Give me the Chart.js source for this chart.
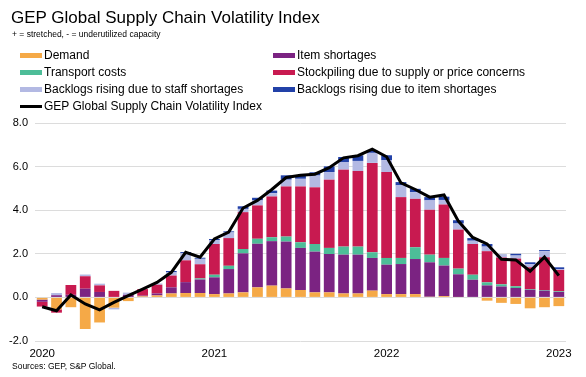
<!DOCTYPE html>
<html>
<head>
<meta charset="utf-8">
<script src="https://cdn.jsdelivr.net/npm/chart.js@4.4.0/dist/chart.umd.min.js"></script>
<style>
  body { margin: 0; background: #fff; }
  #wrap { position: relative; width: 586px; height: 377px; font-family: "Liberation Sans", Arial, sans-serif; color: #000; }
  #wrap canvas { position: absolute; left: 0; top: 0; }
  .txt { position: absolute; white-space: nowrap; }
  .leg { position: absolute; font-size: 12px; line-height: 14px; white-space: nowrap; }
  .leg span { display: inline-block; vertical-align: middle; margin-right: 2px; }
</style>
</head>
<body>
<div id="wrap">
  <canvas id="gscvi" width="586" height="377"></canvas>
  <div class="txt" style="left:11px; top:8px; font-size:17px;">GEP Global Supply Chain Volatility Index</div>
  <div class="txt" style="left:12px; top:29px; font-size:8.5px;">+ = stretched, - = underutilized capacity</div>
  <div class="txt" style="left:12px; top:361px; font-size:8.5px;">Sources: GEP, S&amp;P Global.</div>
  <div id="legend"></div>
</div>
<script>
const months = [
  'Jan 2020', 'Feb 2020', 'Mar 2020', 'Apr 2020', 'May 2020', 'Jun 2020', 'Jul 2020', 'Aug 2020', 'Sep 2020', 'Oct 2020', 'Nov 2020', 'Dec 2020',
  'Jan 2021', 'Feb 2021', 'Mar 2021', 'Apr 2021', 'May 2021', 'Jun 2021', 'Jul 2021', 'Aug 2021', 'Sep 2021', 'Oct 2021', 'Nov 2021', 'Dec 2021',
  'Jan 2022', 'Feb 2022', 'Mar 2022', 'Apr 2022', 'May 2022', 'Jun 2022', 'Jul 2022', 'Aug 2022', 'Sep 2022', 'Oct 2022', 'Nov 2022', 'Dec 2022',
  'Jan 2023'
];

const demand = [-0.1, -0.55, -0.45, -1.45, -1.15, -0.47, -0.17, 0.05, 0.09, 0.18, 0.2, 0.2,
  0.15, 0.18, 0.23, 0.46, 0.54, 0.41, 0.34, 0.23, 0.23, 0.18, 0.18, 0.31,
  0.15, 0.15, 0.15, 0.03, 0.06, 0.02, 0.0, -0.15, -0.25, -0.3, -0.5, -0.45, -0.4];
const itemShortages = [-0.1, 0.1, 0.12, 0.4, 0.25, 0, 0.12, 0.03, 0.09, 0.28, 0.5, 0.62,
  0.77, 1.12, 1.79, 2.0, 2.04, 2.15, 1.93, 1.87, 1.76, 1.78, 1.78, 1.5,
  1.35, 1.38, 1.61, 1.58, 1.4, 1.04, 0.81, 0.55, 0.5, 0.43, 0.35, 0.31, 0.25];
const transport = [0, 0, 0, 0, 0, 0, 0, 0, 0, 0, 0, 0.05,
  0.12, 0.15, 0.2, 0.23, 0.18, 0.23, 0.26, 0.35, 0.28, 0.37, 0.37, 0.26,
  0.31, 0.28, 0.54, 0.35, 0.35, 0.26, 0.23, 0.14, 0.1, 0.08, 0.03, 0.03, 0.03];
const stockpiling = [-0.22, -0.15, 0.45, 0.57, 0.3, 0.3, 0, 0.3, 0.4, 0.54, 1.0, 0.65,
  1.41, 1.27, 1.69, 1.53, 1.87, 2.3, 2.56, 2.6, 3.13, 3.53, 3.47, 4.1,
  3.94, 2.79, 2.22, 2.06, 2.45, 1.79, 1.41, 1.43, 1.23, 1.27, 1.0, 1.5, 0.98];
const staffBacklogs = [0, 0.1, 0, 0.08, 0.08, -0.08, 0.1, 0, 0.06, 0.15, 0.33, 0.25,
  0.18, 0.26, 0.15, 0.23, 0.15, 0.31, 0.35, 0.54, 0.35, 0.35, 0.46, 0.46,
  0.54, 0.54, 0.31, 0.43, 0.21, 0.28, 0.15, 0.21, 0.1, 0.14, 0.15, 0.28, 0.03];
const itemBacklogs = [0, 0, 0, 0, 0, 0, 0, 0, 0, 0.06, 0.05, 0.05,
  0.05, 0.05, 0.12, 0.12, 0.12, 0.2, 0.15, 0.15, 0.26, 0.23, 0.26, 0.1,
  0.23, 0.15, 0.15, 0.15, 0.15, 0.15, 0.12, 0.12, 0.03, 0.08, 0.08, 0.05, 0.09];
const volatilityIndex = [-0.43, -0.61, 0.11, -0.3, -0.57, -0.23, 0.08, 0.38, 0.69, 1.15, 2.07, 1.84,
  2.68, 3.0, 4.1, 4.45, 4.95, 5.5, 5.6, 5.65, 5.95, 6.4, 6.5, 6.8,
  6.45, 5.25, 4.95, 4.6, 4.7, 3.5, 2.75, 2.45, 1.75, 1.72, 1.2, 1.85, 1.0];

const yTicks = [-2, 0, 2, 4, 6, 8];

function bar(label, data, color) {
  return { type: 'bar', label: label, data: data, backgroundColor: color, stack: 'parts', order: 1,
    categoryPercentage: 0.75, barPercentage: 1 };
}

const datasets = [
  bar('Demand', demand, '#F5A947'),
  bar('Item shortages', itemShortages, '#7B2382'),
  bar('Transport costs', transport, '#4DBD98'),
  bar('Stockpiling due to supply or price concerns', stockpiling, '#C81A50'),
  bar('Backlogs rising due to staff shortages', staffBacklogs, '#B3B9E3'),
  bar('Backlogs rising due to item shortages', itemBacklogs, '#2241A8'),
  { type: 'line', label: 'GEP Global Supply Chain Volatility Index', data: volatilityIndex,
    borderColor: '#000', backgroundColor: '#000', borderWidth: 3, pointRadius: 0,
    tension: 0, stack: 'index', order: 0 }
];

const ctx = document.getElementById('gscvi').getContext('2d');
const chart = new Chart(ctx, {
  data: { labels: months, datasets: datasets },
  options: {
    responsive: false,
    animation: false,
    devicePixelRatio: 1,
    layout: { padding: { top: 123, bottom: 16, left: 0, right: 20 } },
    plugins: { legend: { display: false }, tooltip: { enabled: false } },
    scales: {
      x: {
        stacked: true,
        grid: { display: false, drawTicks: false },
        border: { display: false },
        afterFit: function (scale) { scale.height = 20; },
        ticks: {
          autoSkip: false, maxRotation: 0, padding: 6,
          color: '#000', font: { family: 'Liberation Sans', size: 11.5 },
          callback: function (v, i) {
            const m = months[i];
            return m.startsWith('Jan') ? m.slice(4) : '';
          }
        }
      },
      y: {
        stacked: true,
        min: -2, max: 8,
        afterFit: function (scale) { scale.width = 35; },
        afterBuildTicks: function (scale) { scale.ticks = yTicks.map(v => ({ value: v })); },
        grid: { color: '#dcdcdc', lineWidth: 1, drawTicks: false },
        border: { display: false },
        ticks: {
          padding: 7, color: '#000', font: { family: 'Liberation Sans', size: 11 },
          callback: function (v) { return v.toFixed(1); }
        }
      }
    }
  }
});

// legend in two columns, like the original
const legendEl = document.getElementById('legend');
const colX = [20, 273];
const rowY = [48, 65, 82, 99];
chart.data.datasets.forEach(function (ds, i) {
  const item = document.createElement('div');
  item.className = 'leg';
  item.style.left = colX[i % 2] + 'px';
  item.style.top = rowY[Math.floor(i / 2)] + 'px';
  const swatch = document.createElement('span');
  if (ds.type === 'line') {
    swatch.style.cssText = 'width:22px;height:3px;background:' + ds.borderColor + ';';
  } else {
    swatch.style.cssText = 'width:22px;height:5px;background:' + ds.backgroundColor + ';';
  }
  item.appendChild(swatch);
  item.appendChild(document.createTextNode(ds.label));
  legendEl.appendChild(item);
});
</script>
</body>
</html>
